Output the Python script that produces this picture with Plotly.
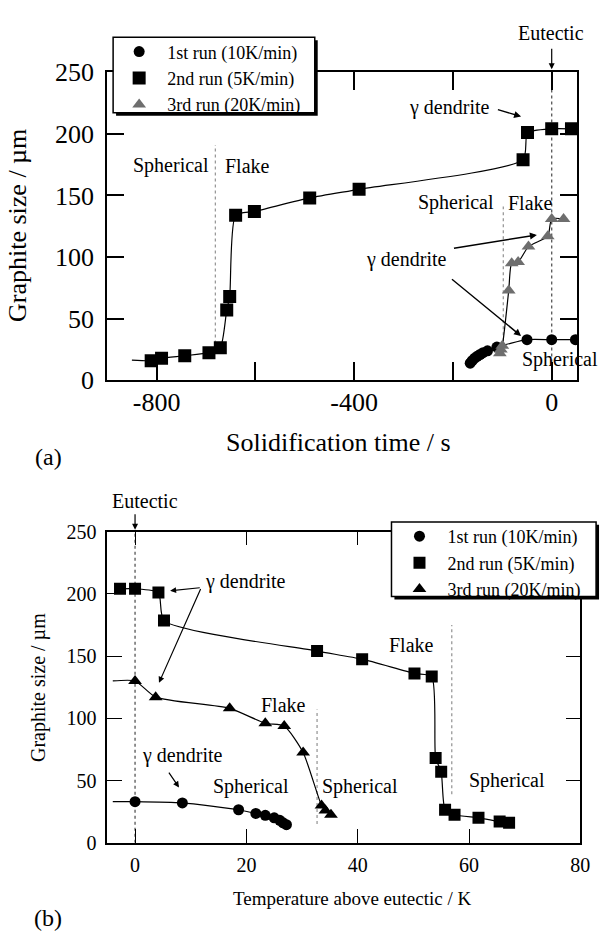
import plotly.graph_objects as go

W, H = 611, 944
FONT = "Liberation Serif, Times New Roman, serif"

# ---------------- panel (a): size vs solidification time ----------------
a_run1_time = [-165, -161, -156, -151, -145, -139, -130, -111, -50, 0, 48]
a_run1_size = [14, 16, 18, 19.5, 21, 22.5, 24, 27, 33, 33, 33]
a_run2_time = [-811, -790, -743, -694, -671, -658, -652, -640, -602, -490, -390, -58, -49, 0, 40]
a_run2_size = [16, 18, 20, 22.5, 26.5, 57, 68, 134, 137, 148, 155, 179, 201, 204, 204]
a_run3_time = [-105, -103, -100, -87, -81, -68, -47, -8, 0, 24]
a_run3_size = [22, 25, 28, 73, 95, 96, 108.5, 117, 131, 131]
a_run2_curve_start = [(-850, 16.5)]
a_xticks = [-800, -600, -400, -200, 0]
a_xticktext = ["-800", "", "-400", "", "0"]
a_boundaries = [(-681, 25, 191), (-98, 22, 141), (0, 0, 250)]

# ---------------- panel (b): size vs temperature above eutectic ----------------
b_run1_temp = [0, 8.5, 18.6, 21.7, 23.4, 25, 26, 26.6, 27.2]
b_run1_size = [33, 32, 26.5, 23.5, 22, 20, 18, 16, 14.5]
b_run2_temp = [-2.7, 0, 4.2, 5.2, 32.7, 40.8, 50.2, 53.3, 54, 55, 55.7, 57.4, 61.7, 65.5, 67.2]
b_run2_size = [204, 204, 201, 178.5, 154, 147.5, 136, 133.5, 68, 57, 26.5, 22.5, 20, 17, 16]
b_run3_temp = [0, 3.7, 17, 23.4, 26.8, 30.2, 33.5, 34.2, 35.2]
b_run3_size = [130, 117, 108, 96, 93.8, 72.5, 30, 26, 22.5]
b_run1_curve_start = [(-4, 33)]
b_run3_curve_start = [(-4, 130)]
b_xticks = [0, 20, 40, 60, 80]
b_boundaries = [(32.7, 15, 107), (56.9, 39, 175), (0, 0, 250)]

series_names = ["1st run (10K/min)", "2nd run (5K/min)", "3rd run (20K/min)"]
size_ticks = [0, 50, 100, 150, 200, 250]

# text labels (text, x, y) in data coordinates
a_labels = [("Spherical", -771, 174), ("Flake", -615, 174), ("γ dendrite", -208, 221),
            ("Spherical", -193, 144), ("Flake", -42, 144), ("γ dendrite", -295, 98),
            ("Spherical", 17, 17)]
a_arrows = [(-112, 220, -62, 214), (-201, 107, -30, 118), (-205, 83, -62, 36)]
b_labels = [("γ dendrite", 19.8, 210), ("Flake", 49.6, 159), ("Flake", 26.7, 111),
            ("γ dendrite", 8.4, 70), ("Spherical", 20.9, 45), ("Spherical", 40.4, 45),
            ("Spherical", 66.8, 50)]
b_arrows = [(11.9, 205, 6.3, 202.5), (11.9, 205, 4.3, 128.5), (5.9, 57.6, 7.9, 44.4)]


def px_x(p):
    return p / W


def px_y(p):
    return 1 - p / H


fig = go.Figure()

BLACK = "black"
GRAY = "#6e6e6e"


def add_run(xs, ys, start, xa, ya, symbol, color, size, name, legend, smooth=0.6):
    lx = [p[0] for p in start] + list(xs)
    ly = [p[1] for p in start] + list(ys)
    fig.add_trace(go.Scatter(x=lx, y=ly, mode="lines", xaxis=xa, yaxis=ya,
                             line=dict(color="black", width=1.2, shape="spline", smoothing=smooth),
                             showlegend=False, hoverinfo="skip"))
    fig.add_trace(go.Scatter(x=xs, y=ys, mode="markers", xaxis=xa, yaxis=ya, name=name,
                             marker=dict(symbol=symbol, color=color, size=size, line=dict(width=0)),
                             legend=legend))


# panel (a)
add_run(a_run1_time, a_run1_size, [], "x", "y", "circle", BLACK, 11, series_names[0], "legend")
add_run(a_run2_time, a_run2_size, a_run2_curve_start, "x", "y", "square", BLACK, 13, series_names[1], "legend")
add_run(a_run3_time, a_run3_size, [], "x", "y", "triangle-up", GRAY, 12, series_names[2], "legend")
# panel (b)
add_run(b_run1_temp, b_run1_size, b_run1_curve_start, "x2", "y2", "circle", BLACK, 11, series_names[0], "legend2")
add_run(b_run2_temp, b_run2_size, [], "x2", "y2", "square", BLACK, 12, series_names[1], "legend2")
add_run(b_run3_temp, b_run3_size, b_run3_curve_start, "x2", "y2", "triangle-up", BLACK, 12, series_names[2], "legend2")

shapes = []
for (xv, y0, y1) in a_boundaries:
    shapes.append(dict(type="line", xref="x", yref="y", x0=xv, x1=xv, y0=y0, y1=y1,
                       line=dict(color="#555" if xv == 0 else "#999", width=1.3, dash="dot"), layer="below"))
for (xv, y0, y1) in b_boundaries:
    shapes.append(dict(type="line", xref="x2", yref="y2", x0=xv, x1=xv, y0=y0, y1=y1,
                       line=dict(color="#555" if xv == 0 else "#999", width=1.3, dash="dot"), layer="below"))

# legend boxes with drop shadow (pixel boxes: left, top, right, bottom)
for (l, t, r, b) in [(115, 24, 320, 102), (398, 524, 606, 601)]:
    shapes.append(dict(type="rect", xref="paper", yref="paper", x0=px_x(l + 3), x1=px_x(r + 3),
                       y0=px_y(b + 3), y1=px_y(t + 3), fillcolor="black", line=dict(width=0), layer="above"))
    shapes.append(dict(type="rect", xref="paper", yref="paper", x0=px_x(l), x1=px_x(r),
                       y0=px_y(b), y1=px_y(t), fillcolor="white", line=dict(color="black", width=1.5),
                       layer="above"))

annotations = []
for (t, xv, yv) in a_labels:
    annotations.append(dict(text=t, x=xv, y=yv, xref="x", yref="y", showarrow=False,
                            xanchor="center", yanchor="middle",
                            font=dict(family=FONT, size=20, color="black")))
for (x0, y0, x1, y1) in a_arrows:
    annotations.append(dict(text="", x=x1, y=y1, ax=x0, ay=y0, xref="x", yref="y", axref="x", ayref="y",
                            showarrow=True, arrowhead=2, arrowsize=1, arrowwidth=1.4, arrowcolor="black",
                            standoff=0, startstandoff=0))
for (t, xv, yv) in b_labels:
    annotations.append(dict(text=t, x=xv, y=yv, xref="x2", yref="y2", showarrow=False,
                            xanchor="center", yanchor="middle",
                            font=dict(family=FONT, size=20, color="black")))
for (x0, y0, x1, y1) in b_arrows:
    annotations.append(dict(text="", x=x1, y=y1, ax=x0, ay=y0, xref="x2", yref="y2", axref="x2", ayref="y2",
                            showarrow=True, arrowhead=2, arrowsize=1, arrowwidth=1.2, arrowcolor="black",
                            standoff=0, startstandoff=0))


def paper_text(text, x, y, size, angle=0):
    return dict(text=text, x=px_x(x), y=px_y(y), xref="paper", yref="paper", showarrow=False,
                xanchor="center", yanchor="middle", textangle=angle,
                font=dict(family=FONT, size=size, color="black"))


# Eutectic markers
annotations.append(paper_text("Eutectic", 560, 20, 20))
annotations.append(dict(text="", x=0, y=px_y(57), xref="x", yref="paper", ax=0, ay=-22,
                        showarrow=True, arrowhead=2, arrowsize=1, arrowwidth=1.2, arrowcolor="black", standoff=0))
annotations.append(paper_text("Eutectic", 147, 502, 20))
annotations.append(dict(text="", x=0, y=px_y(532), xref="x2", yref="paper", ax=0, ay=-17,
                        showarrow=True, arrowhead=2, arrowsize=1, arrowwidth=1.2, arrowcolor="black", standoff=0))

# axis titles & panel letters
annotations += [
    paper_text("Solidification time / s", 344, 442, 26),
    paper_text("Graphite size / µm", 18, 218, 26, -90),
    paper_text("(a)", 49, 457, 24),
    paper_text("Temperature above eutectic / K", 358, 913, 19),
    paper_text("Graphite size / µm", 39, 695, 20, -90),
    paper_text("(b)", 49, 933, 24),
]

axis_common = dict(showline=True, linecolor="black", mirror="ticks", ticks="inside", tickcolor="black",
                   showgrid=False, zeroline=False, color="black")

legend_common = dict(xanchor="left", yanchor="top", bgcolor="rgba(0,0,0,0)", borderwidth=0,
                     font=dict(family=FONT, size=18, color="black"), tracegroupgap=0, itemwidth=46)

fig.update_layout(
    width=W, height=H, margin=dict(l=0, r=0, t=0, b=0),
    paper_bgcolor="white", plot_bgcolor="white",
    font=dict(family=FONT, color="black"),
    xaxis=dict(domain=[px_x(109), px_x(587)], range=[-900, 52], tickvals=a_xticks, ticktext=a_xticktext,
               ticklen=18, tickwidth=1.5, linewidth=1.8, anchor="y",
               tickfont=dict(family=FONT, size=26), ticklabelstandoff=-2, **axis_common),
    yaxis=dict(domain=[px_y(378), px_y(60)], range=[0, 250], tickvals=size_ticks,
               ticklen=17, tickwidth=1.5, linewidth=1.8, anchor="x",
               tickfont=dict(family=FONT, size=26), ticklabelstandoff=6, **axis_common),
    xaxis2=dict(domain=[px_x(109), px_x(590)], range=[-5, 80], tickvals=b_xticks,
                ticklen=14, tickwidth=1.3, linewidth=1.5, anchor="y2",
                tickfont=dict(family=FONT, size=20), ticklabelstandoff=4, **axis_common),
    yaxis2=dict(domain=[px_y(855), px_y(534)], range=[0, 250], tickvals=size_ticks,
                ticklen=15, tickwidth=1.3, linewidth=1.5, anchor="x2",
                tickfont=dict(family=FONT, size=20), ticklabelstandoff=5, **axis_common),
    legend=dict(x=px_x(113), y=px_y(20), **legend_common),
    legend2=dict(x=px_x(398), y=px_y(520), **legend_common),
    shapes=shapes, annotations=annotations,
)

fig.write_html("out.html")
